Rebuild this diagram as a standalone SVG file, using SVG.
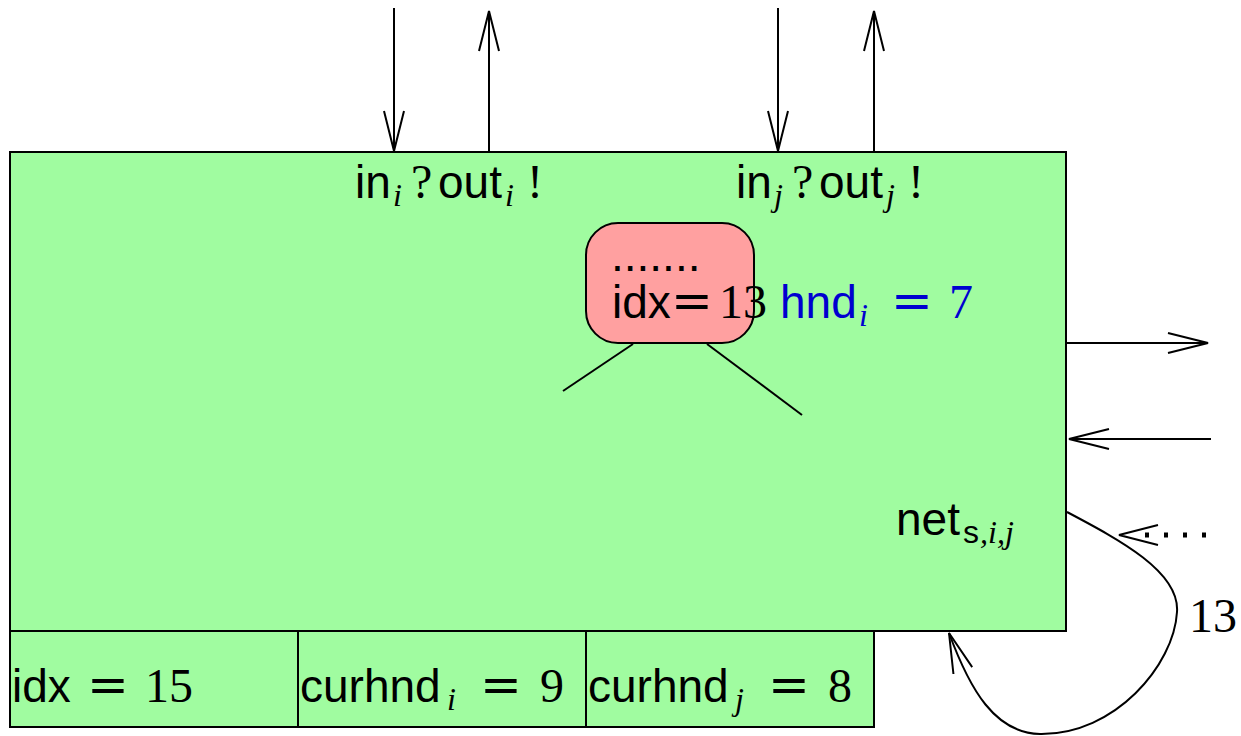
<svg xmlns="http://www.w3.org/2000/svg" width="1241" height="736" viewBox="0 0 1241 736">
<style>
.box{fill:#a0fca0;stroke:#000;stroke-width:2}
.red{fill:#ffa0a0;stroke:#000;stroke-width:2}
.ln{fill:none;stroke:#000;stroke-width:2}
.sf{font-family:"Liberation Sans","DejaVu Sans",sans-serif;font-size:46px;fill:#000}
.m{font-family:"Liberation Serif","DejaVu Serif",serif;font-size:48px}
.eq{font-family:"DejaVu Serif","Liberation Serif",serif;font-size:50px}
.mi{font-family:"Liberation Serif","DejaVu Serif",serif;font-style:italic}
.sub{font-size:32px}
.blue{fill:#0000d0}
</style>
<defs>
<marker id="ah" viewBox="0 0 42 22" refX="41" refY="11" markerWidth="42" markerHeight="22" markerUnits="userSpaceOnUse" orient="auto">
<path d="M1,1 L41,11 L1,21" fill="none" stroke="#000" stroke-width="2"/>
</marker>
</defs>
<g id="net">
<rect class="box" x="10" y="152" width="1056" height="479"/>
<text class="sf" y="198"><tspan x="355">in</tspan><tspan class="mi sub" x="393" y="206">i</tspan><tspan class="m" x="411" y="198">?</tspan><tspan x="438">out</tspan><tspan class="mi sub" x="505" y="206">i</tspan><tspan class="m" x="527" y="198">!</tspan></text>
<text class="sf" y="198"><tspan x="736">in</tspan><tspan class="mi sub" x="774" y="206">j</tspan><tspan class="m" x="792" y="198">?</tspan><tspan x="819">out</tspan><tspan class="mi sub" x="886" y="206">j</tspan><tspan class="m" x="908" y="198">!</tspan></text>
<text class="sf blue" y="318"><tspan x="780">hnd</tspan><tspan class="mi sub" x="859" y="326">i</tspan><tspan class="eq" x="891" y="318">=</tspan><tspan class="m" x="949">7</tspan></text>
<text class="sf" y="535"><tspan x="896">net</tspan><tspan class="sub" x="963" y="543">s</tspan><tspan class="mi sub" x="980">,i,j</tspan></text>
</g>
<g id="cells">
<rect class="box" x="10" y="631" width="288" height="96"/>
<rect class="box" x="298" y="631" width="288" height="96"/>
<rect class="box" x="586" y="631" width="288" height="96"/>
<text class="sf" y="702"><tspan x="12">idx</tspan><tspan class="eq" x="87">=</tspan><tspan class="m" x="145">15</tspan></text>
<text class="sf" y="702"><tspan x="300">curhnd</tspan><tspan class="mi sub" x="447" y="710">i</tspan><tspan class="eq" x="480" y="702">=</tspan><tspan class="m" x="540">9</tspan></text>
<text class="sf" y="702"><tspan x="588">curhnd</tspan><tspan class="mi sub" x="735" y="710">j</tspan><tspan class="eq" x="768" y="702">=</tspan><tspan class="m" x="828">8</tspan></text>
</g>
<g id="idx-node">
<rect class="red" x="586" y="223" width="168" height="120" rx="32" ry="32"/>
<text class="sf" x="611" y="271">.......</text>
<text class="sf" y="318"><tspan x="612">idx</tspan><tspan class="eq" x="671">=</tspan><tspan class="m" x="719">13</tspan></text>
</g>
<g id="connectors">
<line class="ln" x1="394" y1="8" x2="394" y2="151" marker-end="url(#ah)"/>
<line class="ln" x1="489" y1="152" x2="489" y2="11" marker-end="url(#ah)"/>
<line class="ln" x1="778" y1="8" x2="778" y2="151" marker-end="url(#ah)"/>
<line class="ln" x1="874" y1="152" x2="874" y2="11" marker-end="url(#ah)"/>
<line class="ln" x1="1067" y1="343" x2="1208" y2="343" marker-end="url(#ah)"/>
<line class="ln" x1="1211" y1="439" x2="1069" y2="439" marker-end="url(#ah)"/>
<line class="ln" x1="633" y1="344" x2="563" y2="391"/>
<line class="ln" x1="707" y1="344" x2="802" y2="415"/>
<path class="ln" d="M1067,512 C1120,540 1180,572 1177,612 C1174,665 1115,735 1040,734 C995,733 970,690 949,633" marker-end="url(#ah)"/>
<path class="ln" d="M1158,525 L1119,535 L1158,545"/>
<line x1="1145" y1="535" x2="1206" y2="535" stroke="#000" stroke-width="5" stroke-dasharray="4 15"/>
<text class="m" x="1189" y="632" font-size="46">13</text>
</g>
</svg>
